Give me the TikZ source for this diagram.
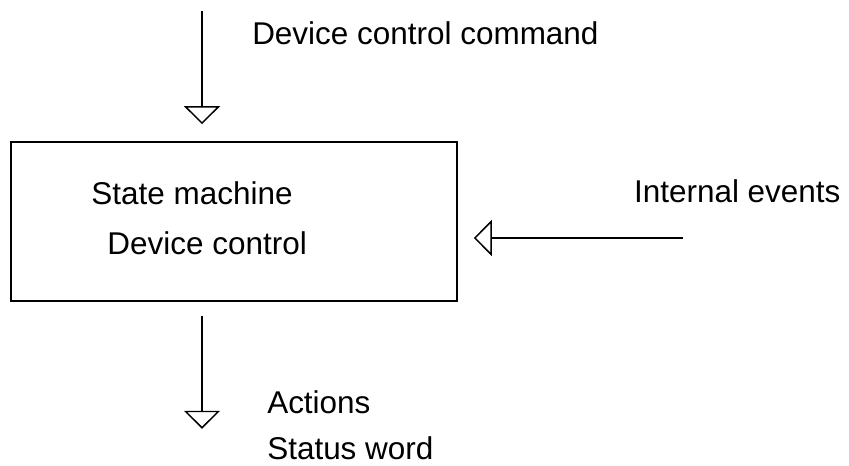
\documentclass[tikz,border=0pt]{standalone}
\usepackage{fontspec}
\setmainfont{Liberation Sans}
\usepackage{tikz}
\usetikzlibrary{arrows.meta}
\usetikzlibrary{positioning}
\tikzstyle{block} = [
	draw,
	rectangle,
	line width = 1.2pt,
	minimum width = 334.5pt,
	minimum height = 119.25pt
]
\tikzstyle{label} = [anchor = base west, inner sep = 0pt, font = \fontsize{23.6}{28}\selectfont]
\tikzstyle{flow} = [line width = 1.1pt, -{Triangle[open, width = 27pt, length = 13.5pt]}]

\begin{document}
\begin{tikzpicture}
	\useasboundingbox (0,0) rectangle (636.75pt,349.5pt);
	\node [block] (sm) at (175.5pt,183.4pt) {};
	\node [label, above right = 12.4pt and 60.75pt of sm.west, anchor = base west] (smtop) {State machine};
	\node [label, below right = 25.1pt and 72.75pt of sm.west, anchor = base west] (smbot) {Device control};

	\coordinate [above = 97.5pt of sm.north, xshift = -24pt] (cmdsrc);
	\coordinate [above = 12.75pt of sm.north, xshift = -24pt] (cmdtip);
	\coordinate [below right = 12.4pt and 168.75pt of sm.east] (evsrc);
	\coordinate [below right = 12.4pt and 12pt of sm.east] (evtip);
	\coordinate [below = 10.5pt of sm.south, xshift = -24pt] (actsrc);
	\coordinate [below = 95.25pt of sm.south, xshift = -24pt] (acttip);

	\node [label, below right = 24.75pt and 37.5pt of cmdsrc, anchor = base west] (cmd) {Device control command};
	\node [label, above left = 26.25pt and 36.75pt of evsrc, anchor = base west] (ev) {Internal events};
	\node [label, above right = 11.25pt and 48.75pt of acttip, anchor = base west] (act) {Actions};
	\node [label, below = 34.5pt of act.base west, anchor = base west] (sw) {Status word};

	\draw [flow] (cmdsrc) -- (cmdtip);
	\draw [flow] (evsrc) -- (evtip);
	\draw [flow] (actsrc) -- (acttip);
\end{tikzpicture}
\end{document}
